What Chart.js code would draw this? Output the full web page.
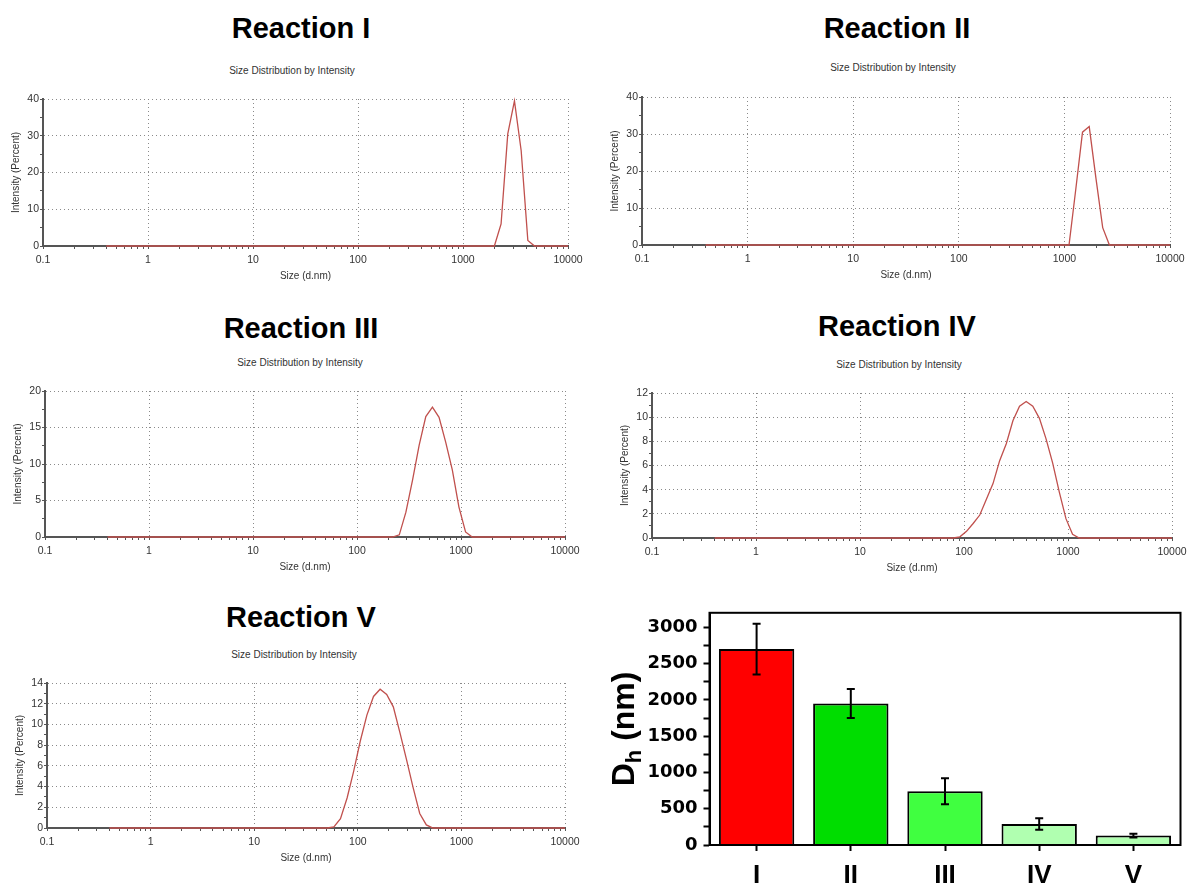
<!DOCTYPE html>
<html><head><meta charset="utf-8">
<script src="https://cdn.jsdelivr.net/npm/chart.js@4.4.1/dist/chart.umd.min.js"></script>
<style>
html,body{margin:0;padding:0;background:#fff;}
body{width:1189px;height:886px;position:relative;overflow:hidden;font-family:'Liberation Sans',Arial,sans-serif;}
.title{position:absolute;font-weight:bold;font-size:29px;color:#000;transform:translate(-50%,-50%);white-space:nowrap;line-height:1;}
.sub{position:absolute;font-size:10px;color:#333;transform:translate(-50%,-50%);white-space:nowrap;line-height:1;}
canvas{position:absolute;}
</style></head><body>
<div class="title" style="left:301px;top:28px">Reaction I</div>
<div class="title" style="left:897px;top:28px">Reaction II</div>
<div class="title" style="left:301px;top:328px">Reaction III</div>
<div class="title" style="left:897px;top:326px">Reaction IV</div>
<div class="title" style="left:301px;top:617px">Reaction V</div>
<div class="sub" style="left:292px;top:71px">Size Distribution by Intensity</div>
<div class="sub" style="left:893px;top:68px">Size Distribution by Intensity</div>
<div class="sub" style="left:300px;top:363px">Size Distribution by Intensity</div>
<div class="sub" style="left:899px;top:365px">Size Distribution by Intensity</div>
<div class="sub" style="left:294px;top:655px">Size Distribution by Intensity</div>
<canvas id="c1"></canvas><canvas id="c2"></canvas><canvas id="c3"></canvas>
<canvas id="c4"></canvas><canvas id="c5"></canvas><canvas id="cb"></canvas>
<script>
const FAMILY = "'Liberation Sans', Arial, sans-serif";

// ---- size axis ticks ----
const sizeDecades = [0.1, 1, 10, 100, 1000, 10000];
const minorMultipliers = [1, 2, 3, 4, 5, 6, 7, 8, 9];

// ---- DLS intensity distributions (size in d.nm, intensity in %) ----
const sizesI = [0.4, 1990, 2305, 2669, 3091, 3580, 4145, 4801, 10000];
const intensityI = [0, 0, 6, 30.5, 39.5, 26, 1.5, 0, 0];

const sizesII = [0.4, 1106, 1281, 1484, 1718, 1990, 2305, 2669, 10000];
const intensityII = [0, 0, 15, 30.5, 32, 18, 4.7, 0, 0];

const sizesIII = [0.4, 220.2, 255, 295.3, 342, 396.1, 458.7, 531.2, 615.1, 712.4, 825, 955.4, 1106, 1281, 10000];
const intensityIII = [0, 0, 0.3, 3.4, 7.8, 12.6, 16.5, 17.8, 16.4, 13.0, 9.2, 4.1, 0.7, 0, 0];

const sizesIV = [0.4, 78.82, 91.28, 105.7, 122.4, 141.8, 164.2, 190.1, 220.2, 255, 295.3, 342, 396.1, 458.7, 531.2, 615.1, 712.4, 825, 955.4, 1106, 1281, 10000];
const intensityIV = [0, 0, 0.1, 0.55, 1.2, 1.9, 3.2, 4.5, 6.4, 7.8, 9.7, 10.9, 11.3, 10.9, 9.9, 8.2, 6.2, 3.8, 1.6, 0.3, 0, 0];

const sizesV = [0.4, 50.75, 58.77, 68.06, 78.82, 91.28, 105.7, 122.4, 141.8, 164.2, 190.1, 220.2, 255, 295.3, 342, 396.1, 458.7, 531.2, 10000];
const intensityV = [0, 0, 0.1, 0.9, 2.9, 5.5, 8.4, 10.9, 12.7, 13.4, 12.9, 11.7, 9.2, 6.6, 3.9, 1.4, 0.3, 0, 0];

// ---- bar chart: hydrodynamic diameter ----
const barLabels = ['I', 'II', 'III', 'IV', 'V'];
const barValues = [2700, 1950, 740, 290, 130];
const barErrors = [350, 200, 180, 80, 25];
const barYTicks = [0, 250, 500, 750, 1000, 1250, 1500, 1750, 2000, 2250, 2500, 2750, 3000];
const barColors = ['#ff0000', '#00dd00', '#40ff40', '#b0ffb0', '#b0ffb0'];

const sizeTicks = [];
sizeDecades.forEach(d => {
  if (d === 10000) { sizeTicks.push(d); return; }
  minorMultipliers.forEach(m => sizeTicks.push(Number((d * m).toPrecision(3))));
});

const panels = [
  {id: 'c1', sizes: sizesI, vals: intensityI, yMax: 40, yStep: 5, yMajor: 10, L: 43, T: 99, R: 568, B: 246},
  {id: 'c2', sizes: sizesII, vals: intensityII, yMax: 40, yStep: 5, yMajor: 10, L: 642, T: 97, R: 1170, B: 245},
  {id: 'c3', sizes: sizesIII, vals: intensityIII, yMax: 20, yStep: 2.5, yMajor: 5, L: 45, T: 391, R: 565, B: 537},
  {id: 'c4', sizes: sizesIV, vals: intensityIV, yMax: 12, yStep: 1, yMajor: 2, L: 652, T: 393, R: 1172, B: 538},
  {id: 'c5', sizes: sizesV, vals: intensityV, yMax: 14, yStep: 1, yMajor: 2, L: 47, T: 683, R: 565, B: 828}
];

const YW = 43, XH = 40, PT = 10, PR = 20;
panels.forEach(p => {
  const cv = document.getElementById(p.id);
  const left = p.L - YW, top = p.T - PT;
  const w = p.R - left + PR, h = p.B + XH - top;
  cv.width = w; cv.height = h;
  cv.style.left = left + 'px'; cv.style.top = top + 'px';
  cv.style.width = w + 'px'; cv.style.height = h + 'px';
  new Chart(cv, {
    type: 'line',
    data: {datasets: [{
      data: p.sizes.map((s, i) => ({x: s, y: p.vals[i]})),
      borderColor: '#c0504d', borderWidth: 1.3, pointRadius: 0, tension: 0, fill: false, clip: false
    }]},
    options: {
      responsive: false, animation: false, devicePixelRatio: 1,
      layout: {padding: {left: 0, top: PT, right: PR, bottom: 0}},
      plugins: {legend: {display: false}, tooltip: {enabled: false}},
      scales: {
        x: {
          type: 'logarithmic', min: 0.1, max: 10000,
          afterBuildTicks: s => { s.ticks = sizeTicks.map(v => ({value: v})); },
          afterFit: s => { s.height = XH; },
          ticks: {autoSkip: false, maxRotation: 0, minRotation: 0, padding: 5,
            font: {family: FAMILY, size: 10.5}, color: '#333',
            callback: v => sizeDecades.includes(v) ? String(v) : ''},
          grid: {color: c => (c.tick && sizeDecades.includes(c.tick.value)) ? '#8a8a8a' : 'rgba(0,0,0,0)',
            lineWidth: 1, tickLength: 3, tickColor: '#555'},
          border: {color: '#555', width: 2, dash: [1, 3]},
          title: {display: true, text: 'Size (d.nm)', color: '#333',
            font: {family: FAMILY, size: 10}, padding: {top: 0, bottom: 3.5}}
        },
        y: {
          min: 0, max: p.yMax,
          afterFit: s => { s.width = YW; },
          ticks: {stepSize: p.yStep, autoSkip: false, padding: 1,
            font: {family: FAMILY, size: 10.5}, color: '#333',
            callback: v => (Math.abs(v % p.yMajor) < 1e-9) ? String(v) : ''},
          grid: {color: c => (c.tick && Math.abs(c.tick.value % p.yMajor) < 1e-9) ? '#8a8a8a' : 'rgba(0,0,0,0)',
            lineWidth: 1, tickLength: 3, tickColor: '#555'},
          border: {color: '#555', width: 2, dash: [1, 3]},
          title: {display: true, text: 'Intensity (Percent)', color: '#333',
            font: {family: FAMILY, size: 10}, padding: {top: 10, bottom: 0}}
        }
      }
    }
  });
});

// ---- bar chart ----
const errorBarPlugin = {
  id: 'errorBars',
  afterDatasetsDraw(chart) {
    const ctx = chart.ctx, ys = chart.scales.y, meta = chart.getDatasetMeta(0);
    ctx.save();
    ctx.strokeStyle = '#000'; ctx.lineWidth = 2;
    meta.data.forEach((bar, i) => {
      const x = bar.x;
      const yt = ys.getPixelForValue(barValues[i] + barErrors[i]);
      const yb = ys.getPixelForValue(barValues[i] - barErrors[i]);
      ctx.beginPath();
      ctx.moveTo(x, yt); ctx.lineTo(x, yb);
      ctx.moveTo(x - 4, yt); ctx.lineTo(x + 4, yt);
      ctx.moveTo(x - 4, yb); ctx.lineTo(x + 4, yb);
      ctx.stroke();
    });
    ctx.restore();
  },
  afterDraw(chart) {
    const ctx = chart.ctx, a = chart.chartArea;
    ctx.save();
    ctx.strokeStyle = '#000'; ctx.lineWidth = 2;
    ctx.strokeRect(a.left, a.top, a.right - a.left, a.bottom - a.top);
    // y-axis title D_h (nm)
    const cx = 27, cy = (a.top + a.bottom) / 2;
    const big = "bold 32px " + FAMILY, small = "bold 22px " + FAMILY;
    ctx.font = big; const wD = ctx.measureText('D').width; const wR = ctx.measureText(' (nm)').width;
    ctx.font = small; const wh = ctx.measureText('h').width;
    const total = wD + wh + wR;
    ctx.translate(cx, cy); ctx.rotate(-Math.PI / 2);
    ctx.fillStyle = '#000'; ctx.textBaseline = 'alphabetic'; ctx.textAlign = 'left';
    const base = 11.5;
    let x0 = -total / 2;
    ctx.font = big; ctx.fillText('D', x0, base); x0 += wD;
    ctx.font = small; ctx.fillText('h', x0, base + 7); x0 += wh;
    ctx.font = big; ctx.fillText(' (nm)', x0, base);
    ctx.restore();
  }
};

(function () {
  const cv = document.getElementById('cb');
  const left = 595, top = 596, w = 594, h = 290;
  cv.width = w; cv.height = h;
  cv.style.left = left + 'px'; cv.style.top = top + 'px';
  cv.style.width = w + 'px'; cv.style.height = h + 'px';
  new Chart(cv, {
    type: 'bar',
    data: {labels: barLabels, datasets: [{
      data: barValues, backgroundColor: barColors, borderColor: '#000', borderWidth: 2,
      categoryPercentage: 1, barPercentage: 0.8
    }]},
    options: {
      responsive: false, animation: false, devicePixelRatio: 1,
      layout: {padding: {left: 0, top: 14, right: 8.5, bottom: 0}},
      plugins: {legend: {display: false}, tooltip: {enabled: false}},
      scales: {
        x: {
          afterFit: s => { s.height = 41; },
          grid: {drawOnChartArea: false, offset: false, tickLength: 6, tickColor: '#000', tickWidth: 2},
          border: {color: '#000', width: 2},
          ticks: {font: {family: FAMILY, size: 26, weight: 'bold'}, color: '#000', padding: 9}
        },
        y: {
          min: 0, max: 3200,
          afterBuildTicks: s => { s.ticks = barYTicks.map(v => ({value: v})); },
          afterFit: s => { s.width = 114.5; },
          grid: {drawOnChartArea: false, tickLength: 6, tickColor: '#000', tickWidth: 2},
          border: {color: '#000', width: 2},
          ticks: {autoSkip: false, padding: 6, font: {family: "'DejaVu Sans', sans-serif", size: 18, weight: 'bold'},
            color: '#000', callback: v => (v % 500 === 0 ? String(v) : '')}
        }
      }
    },
    plugins: [errorBarPlugin]
  });
})();
</script>
</body></html>
